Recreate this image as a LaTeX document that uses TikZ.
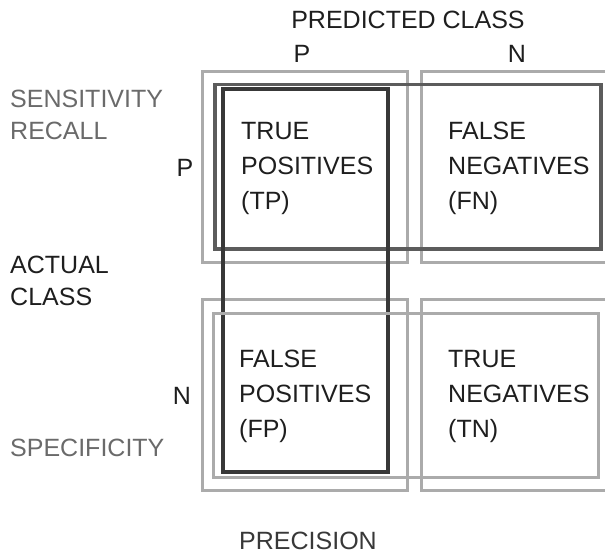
\documentclass[tikz,border=0pt]{standalone}
\usepackage{fontspec}
\setmainfont{Liberation Sans}
\usepackage{tikz}
\usetikzlibrary{positioning,calc}
\definecolor{cmLight}{HTML}{ABABAB}
\definecolor{cmMid}{HTML}{5C5C5C}
\definecolor{cmDark}{HTML}{383838}
\definecolor{cmText}{HTML}{1E1E1E}
\definecolor{cmSoft}{HTML}{6A6A6A}

\begin{document}
\begin{tikzpicture}[
        x=1pt, y=-1pt,
        node distance=36.5pt and 14pt,
        cell/.style={draw=cmLight, line width=3pt, minimum width=205pt, minimum height=191pt, inner sep=0pt, outer sep=0pt},
        celltext/.style={anchor=west, align=left, inner sep=0pt, text=cmText, font=\fontsize{25}{35}\selectfont},
        lbl/.style={inner sep=0pt, align=left, text=cmText, font=\fontsize{25}{31.5}\selectfont},
        sens/.style={draw=cmMid, line width=3.5pt},
        prec/.style={draw=cmDark, line width=3.5pt},
        spec/.style={draw=cmLight, line width=3pt}
    ]
        \useasboundingbox (0,0) rectangle (605,554);

        % the four cells
        \node[cell] (tp) at (304.5,167) {};
        \node[cell, right=of tp] (fn) {};
        \node[cell, below=of tp] (fp) {};
        \node[cell, right=of fp] (tn) {};

        \node[celltext] (tptext) at ($(tp.west)+(39,1.5)$) {TRUE\\POSITIVES\\(TP)};
        \node[celltext] (fntext) at ($(fn.west)+(27,1.5)$) {FALSE\\NEGATIVES\\(FN)};
        \node[celltext] (fptext) at ($(fp.west)+(37,1.5)$) {FALSE\\POSITIVES\\(FP)};
        \node[celltext] (tntext) at ($(tn.west)+(27,1.5)$) {TRUE\\NEGATIVES\\(TN)};

        % row and column frames
        \draw[sens] ($(tp.north west)+(13,13)$) rectangle ($(fn.south east)+(-25,-13.5)$);
        \draw[prec] ($(tp.north west)+(21,17.5)$) rectangle ($(fp.south east)+(-19,-18)$);
        \draw[spec] ($(fp.north west)+(11,14)$) rectangle ($(tn.south east)+(-28,-13)$);

        % headings
        \node[lbl] (predicted) at (408,20) {PREDICTED CLASS};
        \node[lbl] (colp) at (302,54) {P};
        \node[lbl] (coln) at (517,54) {N};
        \node[lbl] (rowp) at (185,168) {P};
        \node[lbl] (rown) at (182,396) {N};
        \node[lbl, anchor=north west, text=cmSoft] (sensitivity) at (10,90) {SENSITIVITY\\RECALL};
        \node[lbl, anchor=north west] (actual) at (10,256) {ACTUAL\\CLASS};
        \node[lbl, anchor=west, text=cmSoft] (specificity) at (10,448) {SPECIFICITY};
        \node[lbl, text=cmDark] (precision) at (308,541) {PRECISION};
    \end{tikzpicture}
\end{document}
